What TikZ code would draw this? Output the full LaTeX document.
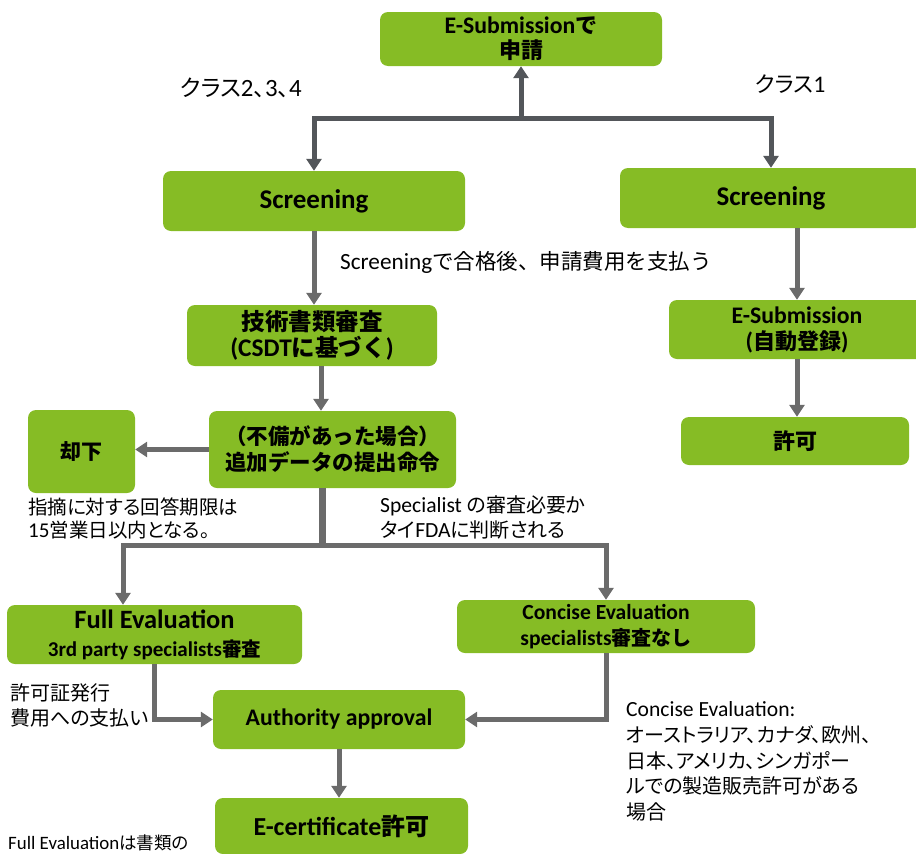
\documentclass[tikz,border=0pt]{standalone}
\usepackage{fontspec}
\usetikzlibrary{arrows.meta}
\setmainfont{Carlito}[Scale=1.08]
\newfontfamily\jpfont{Noto Sans CJK JP}
\newfontfamily\jpnarrow{Noto Sans CJK JP}[RawFeature=+palt]
\def\jp{\jpfont}
\def\lat{\rmfamily}
\XeTeXinterchartokenstate=1
\newXeTeXintercharclass\cjkcls
\count255="3000
\loop\ifnum\count255<"A000 \XeTeXcharclass\count255=\cjkcls \advance\count255 by 1 \repeat
\count255="FF00
\loop\ifnum\count255<"FFF0 \XeTeXcharclass\count255=\cjkcls \advance\count255 by 1 \repeat
\XeTeXinterchartoks 0 \cjkcls={\jp}
\XeTeXinterchartoks 4095 \cjkcls={\jp}
\XeTeXinterchartoks \cjkcls 0={\lat}
\XeTeXinterchartoks 4095 0={\lat}
\definecolor{grn}{HTML}{86BC25}
\definecolor{dgray}{HTML}{53565A}
\definecolor{mgray}{HTML}{6B6B6B}
\tikzset{
  box/.style={fill=grn, rounded corners=8pt, align=center, inner sep=0pt, text=black},
  bf/.style={font=\bfseries\fontsize{#1}{26}\selectfont},
  note/.style={font=\fontsize{20}{25}\selectfont\let\jp\jpnarrow, align=left, anchor=west, inner sep=0pt},
  darr/.style={draw=dgray, line width=5pt, -{Triangle[length=12pt,width=15pt]}},
  garr/.style={draw=mgray, line width=5pt, -{Triangle[length=12pt,width=15pt]}},
}
\begin{document}
\begin{tikzpicture}[x=1pt,y=-1pt]
\useasboundingbox (0,0) rectangle (916,854);
% boxes
\node[box, bf=22, minimum width=282pt, minimum height=54pt] (esub) at (521,39) {E-Submissionで\\[-1pt]申請};
\node[box, bf=25, minimum width=302pt, minimum height=60pt] (scrL) at (314,201) {Screening};
\node[box, bf=25, minimum width=302pt, minimum height=60pt] (scrR) at (771,198) {Screening};
\node[box, bf=23.5, minimum width=250pt, minimum height=61pt] (tech) at (312,335.5) {技術書類審査\\(CSDTに基づく)};
\node[box, bf=21.5, minimum width=247pt, minimum height=77pt] (fubi) at (332.5,449.5) {（不備があった場合）\\追加データの提出命令};
\node[box, bf=21, minimum width=107pt, minimum height=83pt] (kyakka) at (81.5,451.5) {却下};
\node[box, bf=24.5, minimum width=295pt, minimum height=59pt] (full) at (154.5,634.5) {Full Evaluation\\[2pt]{\fontsize{19.5}{20}\selectfont 3rd party specialists審査}};
\node[box, bf=20, minimum width=298pt, minimum height=53pt] (conc) at (606,626.5) {Concise Evaluation\\specialists審査なし};
\node[box, bf=22, minimum width=252pt, minimum height=59pt] (auth) at (339,719.5) {Authority approval};
\node[box, bf=24, minimum width=253pt, minimum height=56pt] (ecert) at (341.5,826) {E-certificate許可};
\node[box, bf=22, minimum width=256pt, minimum height=59pt] (esub2) at (797,329.5) {E-Submission\\(自動登録)};
\node[box, bf=22, minimum width=228pt, minimum height=48pt] (kyoka) at (795,441) {許可};
% notes
\node[note, font=\fontsize{23}{25}\selectfont\let\jp\jpnarrow] (cls234) at (180,88) {クラス2、3、4};
\node[note, font=\fontsize{22}{25}\selectfont\let\jp\jpnarrow] (cls1) at (755,84) {クラス1};
\node[note, font=\fontsize{21.5}{25}\selectfont] (scrnote) at (340,262) {Screeningで合格後、申請費用を支払う};
\node[note, font=\fontsize{19.5}{23}\selectfont\let\jp\jpnarrow] (note1) at (28,518) {指摘に対する回答期限は\\15営業日以内となる。};
\node[note] (note2) at (380,517.5) {Specialist の審査必要か\\タイFDAに判断される};
\node[note] (note3) at (10,705.5) {許可証発行\\費用への支払い};
\node[note, font=\fontsize{20}{25.8}\selectfont\let\jp\jpnarrow] (note4) at (626,761.5) {Concise Evaluation:\\オーストラリア、カナダ、欧州、\\日本、アメリカ、シンガポー\\ルでの製造販売許可がある\\場合};
\node[note, font=\fontsize{17.5}{19}\selectfont\let\jp\jpnarrow] (note5) at (8,843) {Full Evaluationは書類の};
% connectors
\coordinate (j1) at (521,118);
\draw[darr] (j1) -- (esub.south);
\draw[darr] (j1) -| (scrL.north);
\draw[darr] (j1) -| (scrR.north);
\draw[garr] (scrL.south) -- (scrL.south |- tech.north);
\draw[garr] ([xshift=9pt]tech.south) -- ([xshift=9pt]tech.south |- fubi.north);
\draw[garr] (fubi.west) -- (fubi.west -| kyakka.east);
\coordinate (j2) at (322,545);
\draw[draw=mgray, line width=7pt] (fubi.south -| j2) -- (j2);
\draw[garr] (j2) -| ([xshift=-31.5pt]full.north);
\draw[garr] (j2) -| (conc.north);
\draw[garr] (full.south) |- (auth.west);
\draw[garr] (conc.south) |- (auth.east);
\draw[garr] (auth.south) -- (auth.south |- ecert.north);
\draw[garr] (scrR.south -| esub2.north) -- (esub2.north);
\draw[garr] (esub2.south) -- (esub2.south |- kyoka.north);
\end{tikzpicture}
\end{document}
